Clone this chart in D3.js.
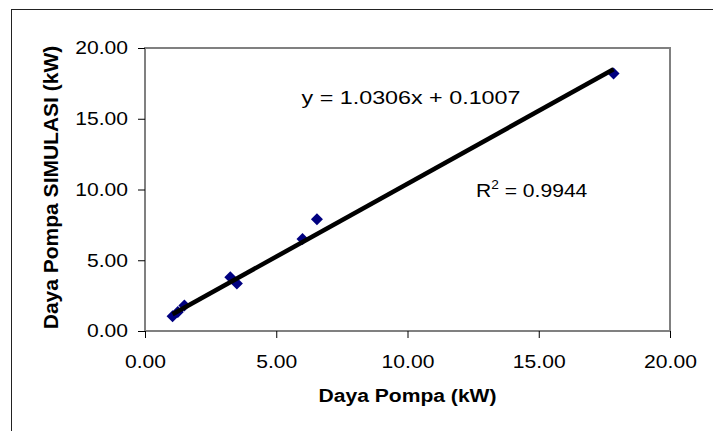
<!DOCTYPE html>
<html>
<head>
<meta charset="utf-8">
<script src="https://cdn.jsdelivr.net/npm/d3@7"></script>
<style>
  body { margin: 0; background: #fff; }
  text { font-family: Arial, "Liberation Sans", sans-serif; }
</style>
</head>
<body>
<div id="chart"></div>
<script>
// measured vs simulated pump power
const dayaPompa = [1.05, 1.25, 1.5, 3.25, 3.5, 6.0, 6.55, 17.85]
const dayaSimulasi = [1.05, 1.35, 1.8, 3.8, 3.35, 6.5, 7.9, 18.2]
const tickVals = [0, 5, 10, 15, 20]
const slope = 1.0306, intercept = 0.1007
const eqText = "y = 1.0306x + 0.1007"
const r2Value = "0.9944"

const W = 713, H = 431
const plot = { left: 145, right: 670, top: 48, bottom: 331 }
const fs = 18.5      // font size
const sx = 1.14      // the picture is a bit wider than tall, stretch text to match

const svg = d3.select("#chart").append("svg")
    .attr("width", W)
    .attr("height", H)

// outer chart border (only top/left visible in frame)
svg.append("rect")
    .attr("x", 11.5).attr("y", 9.5)
    .attr("width", W + 20).attr("height", H + 20)
    .attr("fill", "none").attr("stroke", "#222").attr("stroke-width", 1)

const x = d3.scaleLinear().domain([0, 20]).range([plot.left, plot.right])
const y = d3.scaleLinear().domain([0, 20]).range([plot.bottom, plot.top])

// plot area frame (gray)
svg.append("rect")
    .attr("x", plot.left).attr("y", plot.top)
    .attr("width", plot.right - plot.left).attr("height", plot.bottom - plot.top)
    .attr("fill", "none").attr("stroke", "#808080").attr("stroke-width", 2)

const fmt = d3.format(".2f")

const xAxis = svg.append("g")
    .attr("transform", `translate(0,${plot.bottom})`)
    .call(d3.axisBottom(x).tickValues(tickVals).tickFormat(fmt).tickSize(7).tickPadding(17))
xAxis.select(".domain").remove()
xAxis.selectAll("text").attr("font-size", fs).attr("fill", "#000")
    .attr("transform", `scale(${sx},1)`)
xAxis.selectAll("line").attr("stroke", "#000")

const yAxis = svg.append("g")
    .attr("transform", `translate(${plot.left},0)`)
    .call(d3.axisLeft(y).tickValues(tickVals).tickFormat(fmt).tickSize(7))
yAxis.select(".domain").remove()
yAxis.selectAll("text").attr("font-size", fs).attr("fill", "#000")
    .attr("x", -17 / sx)
    .attr("transform", `scale(${sx},1)`)
yAxis.selectAll("line").attr("stroke", "#000")

// axis titles
svg.append("text")
    .attr("transform", `translate(${(plot.left + plot.right) / 2},402) scale(${sx},1)`)
    .attr("text-anchor", "middle")
    .attr("font-size", fs).attr("font-weight", "bold")
    .text("Daya Pompa (kW)")

svg.append("text")
    .attr("transform", `translate(58,${(plot.top + plot.bottom) / 2 - 2}) rotate(-90)`)
    .attr("text-anchor", "middle")
    .attr("font-size", 21).attr("font-weight", "bold")
    .text("Daya Pompa SIMULASI (kW)")

// data points (navy diamonds)
const pts = dayaPompa.map((d, i) => ({ px: d, sim: dayaSimulasi[i] }))
svg.selectAll("path.pt")
    .data(pts)
    .enter().append("path")
    .attr("class", "pt")
    .attr("d", d3.symbol().type(d3.symbolSquare).size(72))
    .attr("transform", d => `translate(${x(d.px)},${y(d.sim)}) rotate(45)`)
    .attr("fill", "#000080")

// linear trendline
const xMin = d3.min(dayaPompa), xMax = d3.max(dayaPompa)
svg.append("line")
    .attr("x1", x(xMin)).attr("y1", y(slope * xMin + intercept))
    .attr("x2", x(xMax)).attr("y2", y(slope * xMax + intercept))
    .attr("stroke", "#000").attr("stroke-width", 4.5)

// equation + R²
svg.append("text")
    .attr("transform", `translate(411,104) scale(1.26,1)`)
    .attr("text-anchor", "middle")
    .attr("font-size", fs)
    .text(eqText)

const r2 = svg.append("text")
    .attr("transform", `translate(476,197) scale(${sx},1)`)
    .attr("font-size", fs)
r2.append("tspan").text("R")
r2.append("tspan").attr("dy", -8).attr("font-size", 12).text("2")
r2.append("tspan").attr("dy", 8).text(" = " + r2Value)
</script>
</body>
</html>
